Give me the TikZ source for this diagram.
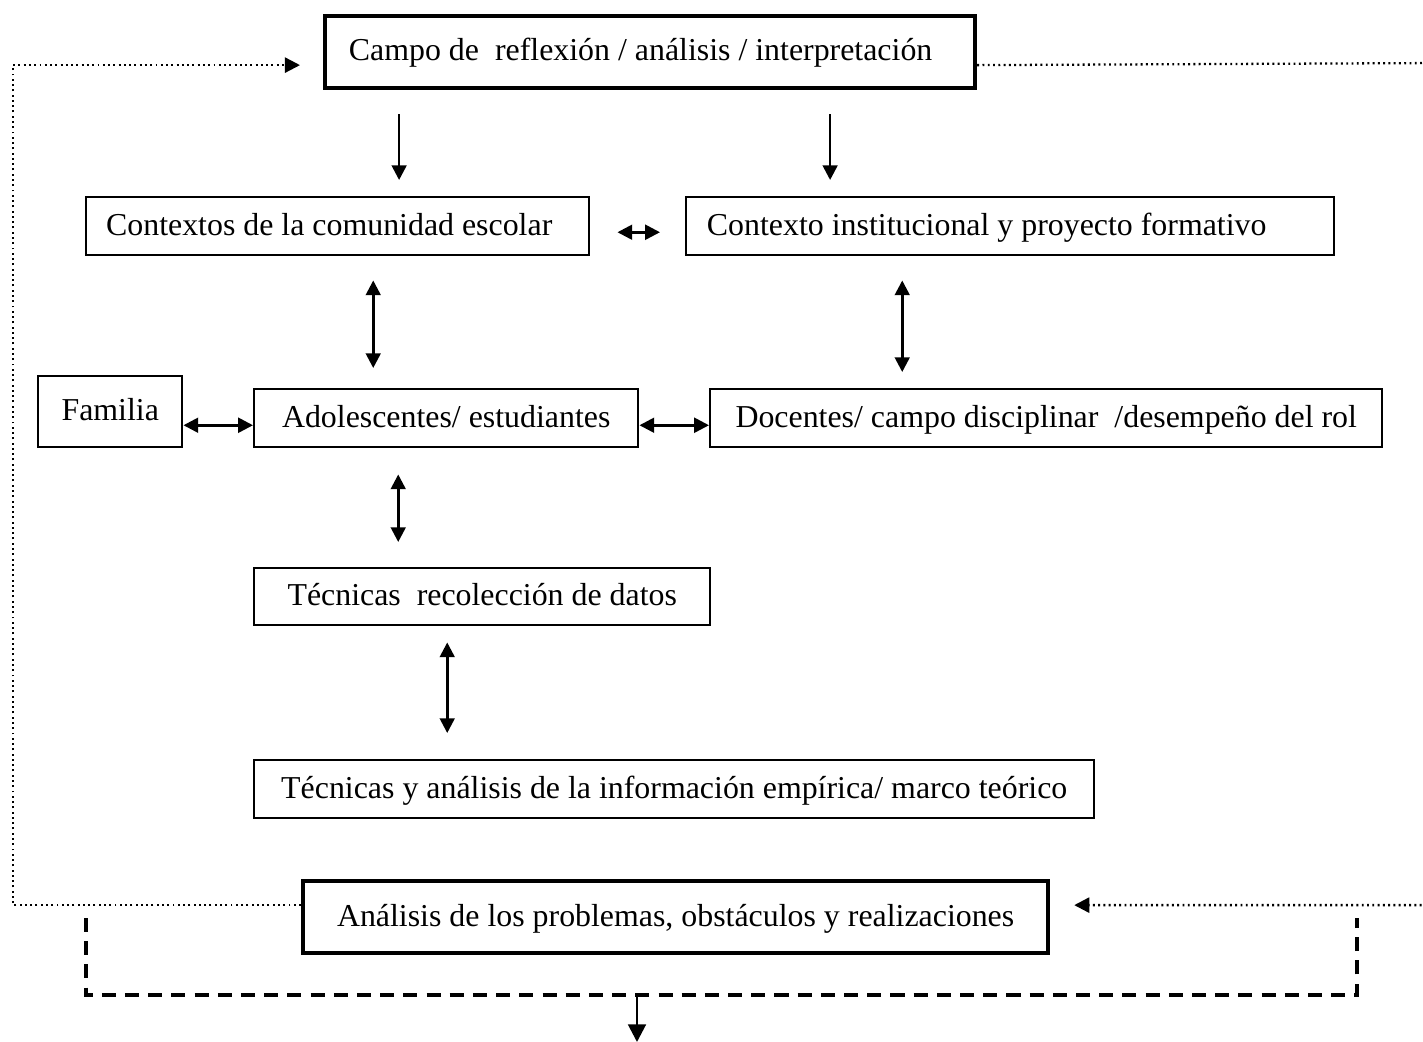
\documentclass[tikz,border=0pt]{standalone}
\usepackage{fontspec}
\setmainfont{Liberation Serif}
\usetikzlibrary{arrows.meta}

\begin{document}
\begin{tikzpicture}[
  font=\fontsize{9.07}{11}\selectfont,
  box/.style={rectangle, draw=black, line width=0.7pt, anchor=north west, inner sep=0pt, align=center, text height=1.55ex, text depth=0.45ex},
  mainbox/.style={box, line width=1.2pt},
  arr/.style={-{Triangle[length=4.2pt, width=4.2pt]}, line width=0.75pt},
  both/.style={{Triangle[length=4.2pt, width=4.2pt]}-{Triangle[length=4.2pt, width=4.2pt]}, line width=0.75pt},
  loop/.style={-{Triangle[length=4.3pt, width=4.3pt]}, line width=0.65pt, dash pattern=on 0.55pt off 0.95pt},
  bracket/.style={line width=1pt, dash pattern=on 4pt off 2.6pt}
]
\useasboundingbox (0,0) rectangle (14.23,-10.41);

\node[mainbox, minimum width=6.50cm, minimum height=0.72cm] (campo) at (3.23,-0.14) {Campo de~ reflexión / análisis / interpretación\hspace{0.19cm}};
\node[box, minimum width=5.03cm, minimum height=0.58cm] (comunidad) at (0.85,-1.96) {Contextos de la comunidad escolar\hspace{0.17cm}};
\node[box, minimum width=6.48cm, minimum height=0.58cm] (institucional) at (6.85,-1.96) {Contexto institucional y proyecto formativo\hspace{0.47cm}};
\node[box, minimum width=1.44cm, minimum height=0.71cm] (familia) at (0.37,-3.75) {Familia};
\node[box, minimum width=3.84cm, minimum height=0.58cm] (adolescentes) at (2.53,-3.88) {Adolescentes/ estudiantes};
\node[box, minimum width=6.72cm, minimum height=0.58cm] (docentes) at (7.09,-3.88) {Docentes/ campo disciplinar~ /desempeño del rol};
\node[box, minimum width=4.56cm, minimum height=0.57cm] (recoleccion) at (2.53,-5.67) {Técnicas~ recolección de datos};
\node[box, minimum width=8.40cm, minimum height=0.58cm] (informacion) at (2.53,-7.59) {Técnicas y análisis de la información empírica/ marco teórico};
\node[mainbox, minimum width=7.45cm, minimum height=0.72cm] (problemas) at (3.01,-8.79) {Análisis de los problemas, obstáculos y realizaciones};

% flechas desde el campo
\draw[arr, shorten <=0.24cm, shorten >=0.16cm] ([xshift=-2.51cm]campo.south) -- ([xshift=-2.51cm]campo.south |- comunidad.north);
\draw[arr, shorten <=0.24cm, shorten >=0.16cm] ([xshift=1.80cm]campo.south) -- ([xshift=1.80cm]campo.south |- institucional.north);

% relaciones
\draw[both, shorten <=0.27cm, shorten >=0.25cm] ([yshift=-0.06cm]comunidad.east) -- ([yshift=-0.06cm]comunidad.east -| institucional.west);
\draw[both, shorten <=0.24cm, shorten >=0.20cm] ([xshift=0.355cm]comunidad.south) -- ([xshift=0.355cm]comunidad.south |- adolescentes.north);
\draw[both, shorten <=0.24cm, shorten >=0.16cm] ([xshift=-1.08cm]institucional.south) -- ([xshift=-1.08cm]institucional.south |- docentes.north);
\draw[both] ([yshift=-0.07cm]adolescentes.west -| familia.east) -- ([yshift=-0.07cm]adolescentes.west);
\draw[both] ([yshift=-0.07cm]adolescentes.east) -- ([yshift=-0.07cm]adolescentes.east -| docentes.west);
\draw[both, shorten <=0.26cm, shorten >=0.25cm] ([xshift=-0.48cm]adolescentes.south) -- ([xshift=-0.48cm]adolescentes.south |- recoleccion.north);
\draw[both, shorten <=0.16cm, shorten >=0.26cm] ([xshift=-0.35cm]recoleccion.south) -- ([xshift=-0.35cm]recoleccion.south |- informacion.north);

% retroalimentacion
\draw[loop, shorten >=0.23cm] ([yshift=0.12cm]problemas.west) -- ++(-2.88,0) |- ([yshift=-0.13cm]campo.west);
\draw[loop, shorten >=0.24cm] ([yshift=-0.13cm]campo.east) -- (14.40,-0.63) |- ([yshift=0.12cm]problemas.east);

% cierre
\coordinate (salida) at (6.37,-9.95);
\draw[bracket] (0.86,-9.18) |- (13.57,-9.95) -- (13.57,-9.18);
\draw[-{Triangle[length=5pt, width=5pt]}, line width=0.8pt] (salida) -- ++(0,-0.47);
\end{tikzpicture}
\end{document}
